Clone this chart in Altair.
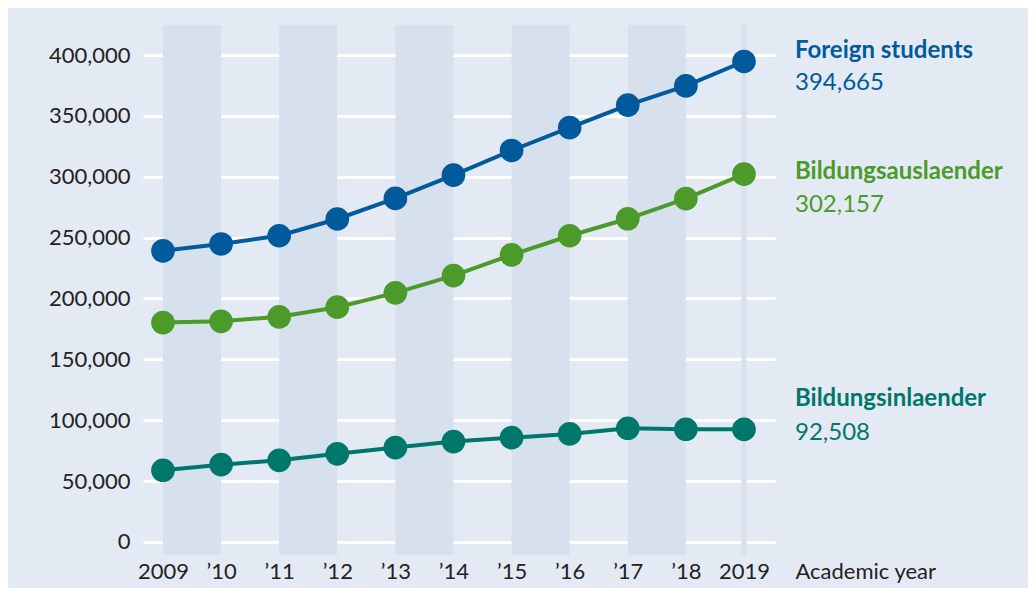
import altair as alt
import pandas as pd

years = [2009, 2010, 2011, 2012, 2013, 2014, 2015, 2016, 2017, 2018, 2019]
foreign = [239143, 244776, 251542, 265292, 282201, 301350, 321569, 340305, 358895, 374583, 394665]
ausl = [180222, 181249, 184960, 192853, 204644, 218848, 235858, 251542, 265484, 282002, 302157]
inl = [58921, 63527, 67072, 72439, 77557, 82502, 85711, 88763, 93411, 92581, 92508]
series_names = ["Foreign students", "Bildungsauslaender", "Bildungsinlaender"]
colors = ["#005a9b", "#4b9a2a", "#00776b"]
year_labels = ["2009", "\u201910", "\u201911", "\u201912", "\u201913", "\u201914",
               "\u201915", "\u201916", "\u201917", "\u201918", "2019"]
y_ticks = [0, 50000, 100000, 150000, 200000, 250000, 300000, 350000, 400000]
stripe_starts = [2009, 2011, 2013, 2015, 2017]

rows = []
for name, vals in zip(series_names, [foreign, ausl, inl]):
    for y, v in zip(years, vals):
        rows.append({"year": y, "value": v, "series": name})
df = pd.DataFrame(rows)

stripes = pd.DataFrame({"x": stripe_starts, "x2": [s + 1 for s in stripe_starts]})
last = pd.DataFrame({"year": [2019] * 3, "value": [foreign[-1], ausl[-1], inl[-1]],
                     "series": series_names,
                     "label": [f"{v:,}" for v in [foreign[-1], ausl[-1], inl[-1]]]})

FONT = "Lato"
TXT = "#222222"
xdom = [2008.656, 2019.534]
ydom = [-10678, 424641]
xs = alt.Scale(domain=xdom, nice=False, zero=False)
ys = alt.Scale(domain=ydom, nice=False, zero=False)
cs = alt.Scale(domain=series_names, range=colors)

label_expr = "{" + ",".join(f"'{y}':'{l}'" for y, l in zip(years, year_labels)) + "}[datum.value]"

x_axis = alt.Axis(
    values=years, labelExpr=label_expr, title="Academic year",
    domain=False, ticks=False, grid=False, labelPadding=6,
    labelFontSize=22, labelFont=FONT, labelColor=TXT,
    titleFont=FONT, titleFontSize=22, titleFontWeight="normal", titleColor=TXT,
    titleX=652, titleY=16, titleAlign="left", titleBaseline="middle")
y_axis = alt.Axis(
    values=y_ticks, labelExpr="format(datum.value, ',')", title=None,
    domain=False, ticks=False, grid=True, gridColor="white", gridWidth=3,
    labelPadding=13, labelFontSize=22, labelFont=FONT, labelColor=TXT)

stripe_layer = alt.Chart(stripes).mark_rect(color="#d7e1ed").encode(
    x=alt.X("x:Q", scale=xs, axis=x_axis),
    x2="x2:Q",
)

rule2019 = alt.Chart(pd.DataFrame({"x": [2019]})).mark_rule(color="#d7e1ed", strokeWidth=5).encode(
    x=alt.X("x:Q", scale=xs, axis=x_axis)
)

grid_layer = alt.Chart(df).mark_point(opacity=0).encode(
    x=alt.X("year:Q", scale=xs, axis=x_axis),
    y=alt.Y("value:Q", scale=ys, axis=y_axis),
)

enc = dict(
    x=alt.X("year:Q", scale=xs, axis=x_axis),
    y=alt.Y("value:Q", scale=ys, axis=y_axis),
    color=alt.Color("series:N", scale=cs, legend=None),
)
lines = alt.Chart(df).mark_line(strokeWidth=4).encode(**enc)
points = alt.Chart(df).mark_circle(size=560, opacity=1).encode(**enc)

name_layers = []
offsets = {"Foreign students": (-10, 22), "Bildungsauslaender": (-2, 31), "Bildungsinlaender": (-30, 4)}
for name in series_names:
    d_name, d_val = offsets[name]
    sub = last[last["series"] == name]
    name_layers.append(alt.Chart(sub).mark_text(align="left", baseline="middle", dx=51, dy=d_name,
                                               font=FONT, fontSize=24, fontWeight="bold").encode(
        text="series:N", **enc))
    name_layers.append(alt.Chart(sub).mark_text(align="left", baseline="middle", dx=51, dy=d_val,
                                               font=FONT, fontSize=24).encode(
        text="label:N", **enc))

chart = alt.layer(stripe_layer, rule2019, grid_layer, lines, points, *name_layers).properties(
    width=632, height=530,
    padding={"left": 135, "top": 17, "right": 253, "bottom": 33},
    autosize=alt.AutoSizeParams(type="none"),
    background="#e4eaf4",
).configure_view(stroke=None)

chart.save("out.html", embed_options={"renderer": "svg", "actions": False})
